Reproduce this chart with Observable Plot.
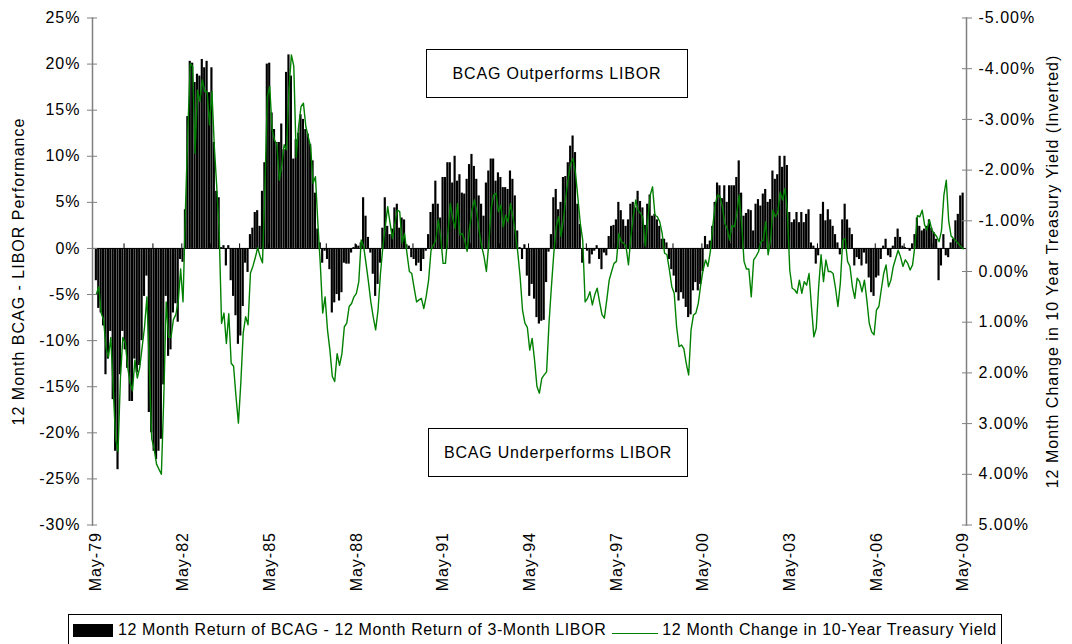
<!DOCTYPE html>
<html><head><meta charset="utf-8">
<script src="https://cdn.jsdelivr.net/npm/d3@7"></script>
<script src="https://cdn.jsdelivr.net/npm/@observablehq/plot@0.6"></script>
<style>
body{margin:0;background:#fff;font-family:"Liberation Sans",Arial,sans-serif;}
#wrap{position:relative;width:1072px;height:644px;overflow:hidden;}
.box{position:absolute;border:1px solid #000;background:#fff;display:flex;align-items:center;justify-content:center;font-size:16px;letter-spacing:0.8px;color:#000;}
#legend{position:absolute;left:68px;top:614px;width:934px;height:36px;border:1px solid #000;display:flex;align-items:flex-start;font-size:16px;letter-spacing:0.6px;padding-top:6px;box-sizing:border-box;}
.sw{display:inline-block;}
</style></head><body><div id="wrap"></div>
<script>
// 12 Month Return of BCAG - 12 Month Return of 3-Month LIBOR (%), monthly from May-79 (index 0) to May-09 (index 360)
const bcagMinusLibor = [
-3.5,-6.5,-7,-8.4,-13.7,-12,-9,-16.4,-22,-24,
-13.7,-9,-11,-13,-16.6,-16.6,-12,-13.5,-12.7,-10,
-5.2,-3,-17.8,-20,-22,-22.9,-22,-20.7,-14.8,-5.2,
-11.7,-11,-7,-6,-8,-1.2,-1.5,4.2,14.3,20.3,
20.1,18,18.9,18.7,20.5,19.6,20.3,16.9,19.6,11.5,
6.2,5.5,0.1,0.3,-1.9,0.3,-3.5,-5.2,-7.3,-10.4,
-9.5,-6.3,-1.6,-2.6,1.5,2.2,3.9,4.1,2.4,6.2,
9.3,20,20.1,14.7,12.9,11.5,11.5,13.5,10.7,19.1,
21,18.7,9.7,11.8,12.5,14.5,14,12.9,12.4,11.3,
9.5,6,2.1,0.6,-1.6,-0.3,-1.2,-2.3,-7,-5.9,
-5,-5.7,-4.8,-1.6,-1.7,-1.7,-0.5,0.1,0.4,0.25,
0.6,5.5,3.5,1.2,-0.5,-2.8,-5.2,-3.9,-1.6,2.2,
5.5,2.4,1.5,2.1,4.4,4.8,2.2,3.3,3.1,0.4,
0.25,-1,-1.2,-1.9,-1.6,-2.5,-1.2,-0.3,1.5,3.9,
4.8,7.3,4.8,3.3,7.7,7.7,9.3,9.3,7.1,10,
7.3,8,6,5.9,7.5,9.1,10.2,8.9,7.5,5.7,
4.8,3.5,7.1,8.4,9.7,9.7,7.3,8.2,7.7,6.6,
6.6,6.4,8.4,7.5,5.7,1.9,0.1,-1.2,0.4,-3,
-5.2,-3.9,-5.5,-7.5,-8.2,-7.9,-7.8,-3.7,-0.4,1.5,
5.5,6.4,4.2,5,7.7,7.8,9.3,11.1,12.2,10.4,
4.8,2.6,-1.6,-0.1,-0.3,-1.7,-0.7,-0.3,0.3,-1.2,
-2.3,-0.5,-0.8,1.3,2.4,2.5,3.1,5,4.1,3.1,
2.4,3.1,4.8,5,4.4,6.2,5.1,4.4,2.5,4.8,
5.8,3.5,3.7,3.1,2.4,1.0,1.0,0.6,-1.2,-2.3,
-3.0,-4.8,-5.7,-4.8,-5.5,-6.4,-7.5,-7.2,-4.6,-3.7,
-4.6,-3.9,-2.5,1.3,0.4,0.8,2.4,5,7.1,6.8,
5.4,6.8,5,6.8,6.8,6.8,7.7,9.5,6.0,3.5,
3.8,4.2,4.1,1.9,4.8,5.3,4.6,5.9,6.4,5,
5.3,8.4,7.5,8,10,8.8,10,9,3.9,2.8,
3.1,3.9,2.8,3.9,2.8,3.7,4.2,0.6,0.25,-1.7,
-0.8,3.7,5,3,4.2,3.1,2.4,1.5,0.6,-0.7,
3.1,4.8,3.1,2.2,1.5,-1.9,-1.0,-1.2,-1.9,-0.5,
-1.7,-3.2,-4.8,-5.2,-3.2,-3.0,-1.2,0.25,1.0,-0.8,
-1.0,0.25,1.2,2.1,1.2,0.25,0.1,-0.1,-0.3,0.5,
1.5,3.3,2.4,1.9,2.1,2.4,3.1,2.2,1.7,1.0,
-3.5,-1.9,1.5,-0.8,-1.0,0.6,1.0,3.0,3.7,5.7,6.0
];
// 12 Month Change in 10-Year Treasury Yield (%), same months (plotted on inverted right axis)
const treasuryChange = [
0.45,0.3,0.82,0.95,1.5,1.7,1.3,2.3,3.3,3.55,
2.1,1.3,1.4,1.88,2.2,2.35,1.75,2.1,1.9,1.5,
1.1,0.5,1.9,3.3,3.5,3.8,3.9,4.0,2.5,0.6,
1.3,1.3,0.95,0.85,0.6,-0.05,0.6,-1.21,-2.79,-4.1,
-4.05,-2.33,-3.58,-3.35,-3.78,-3.55,-3.55,-2.89,-3.55,-2.46,
-1.67,-0.82,1.02,0.82,1.42,0.83,1.81,1.87,2.47,2.99,
2.2,1.21,0.89,1.05,0.03,-0.1,-0.27,-0.47,-0.3,-0.17,
-1.61,-3.45,-3.65,-2.8,-2.59,-2.5,-1.8,-2.1,-2.5,-2.4,
-3.6,-4.27,-4.05,-2.25,-2.86,-3.25,-3.32,-2.86,-2.66,-2.46,
-1.74,-1.87,-0.95,-0.16,0.82,0.5,1.15,1.55,2.07,2.17,
1.62,1.85,1.62,1.09,1.02,0.69,0.63,0.5,0.43,0.2,
-0.62,-0.5,-0.16,0.2,0.6,0.9,1.15,0.76,0.04,-0.49,
-0.88,-1.28,-0.95,-0.65,-0.95,-1.21,-1.18,-0.56,-0.75,-0.36,
0,0.04,0.33,0.6,0.56,0.53,0.73,0.49,0.17,-0.42,
-0.52,-0.62,-1.02,-0.69,-0.16,-0.16,-0.75,-1.34,-1.05,-0.85,
-1.34,-0.72,-0.75,-0.6,-0.4,-0.85,-1.2,-1.41,-1.18,-0.8,
-0.5,-0.3,0,-0.56,-1.25,-1.51,-1.54,-1.18,-1.31,-0.88,
-1.11,-0.98,-1.34,-1.08,-0.78,-0.39,0.1,0.76,1.02,1.1,
1.55,1.32,1.75,2.27,2.4,2.11,2.04,1.98,1.02,0.3,
-0.36,-0.88,-1.08,-0.69,-1.02,-1.48,-1.84,-2.13,-2.23,-1.94,
-1.45,-0.95,-0.62,0.6,0.53,0.4,0.66,0.46,0.33,0.6,
0.85,0.92,0.56,0.17,0,-0.16,-0.2,-0.75,-0.59,-0.56,
-0.49,-0.13,-0.69,-1.08,-1.41,-1.21,-1.15,-1.05,-0.5,-1.0,
-1.5,-1.67,-1.11,-1.08,-0.98,-0.75,-0.36,-0.33,-0.03,0.3,
0.43,1.09,1.48,1.45,1.52,1.81,2.04,1.15,0.86,0.82,
0.63,0.27,-0.03,-0.23,-0.1,-0.39,-0.88,-1.31,-1.51,-1.48,
-1.28,-0.95,-0.85,-0.62,-0.91,-0.88,-1.15,-1.51,-0.95,-0.2,
-0.05,-0.05,0.5,-0.23,-0.3,-0.39,-0.59,-0.62,-0.98,-0.33,
-0.62,-1.21,-1.08,-1.15,-1.57,-1.41,-1.64,-1.18,-0.03,0.33,
0.36,0.43,0.17,0.43,0.2,0.27,0.04,0.69,1.29,1.12,
0.3,-0.33,0.2,-0.23,0,0,0.04,0.33,0.69,0.23,
-0.62,-0.65,-0.2,-0.1,0.3,0.53,0.13,0.2,0.4,0.17,
0.56,1.02,1.19,1.25,0.76,0.69,0.36,0.04,-0.13,0.3,
0.17,-0.1,-0.26,-0.42,-0.29,-0.1,-0.23,-0.16,-0.03,-0.13,
-0.52,-1.1,-1.08,-1.21,-0.92,-0.82,-1.02,-0.82,-0.75,-0.69,
-0.59,-0.8,-1.5,-1.8,-1.0,-0.7,-0.65,-0.6,-0.55,-0.49,-0.45
];
const xTickLabels = ["May-79","May-82","May-85","May-88","May-91","May-94","May-97","May-00","May-03","May-06","May-09"];
const xTickMonths = [0,36,72,108,144,180,216,252,288,324,360];
const yearTickMonths = d3.range(1,31).map(k => 12*k - 0.5);
const leftTicks = [-30,-25,-20,-15,-10,-5,0,5,10,15,20,25];
const rightTicks = [-5,-4,-3,-2,-1,0,1,2,3,4,5];
const leftTitle = "12 Month BCAG - LIBOR Performance";
const rightTitle = "12 Month Change in 10 Year Treasury Yield (Inverted)";
const legendBars = "12 Month Return of BCAG - 12 Month Return of 3-Month LIBOR";
const legendLine = "12 Month Change in 10-Year Treasury Yield";
const noteTop = "BCAG Outperforms LIBOR";
const noteBottom = "BCAG Underperforms LIBOR";

// right axis (inverted): -5% at top (= +25 left), +5% at bottom (= -30 left)
const toLeft = r => -2.5 - 5.5 * r;
const fromLeft = v => (-2.5 - v) / 5.5;

const data = bcagMinusLibor.map((v, i) => ({m: i, v, t: treasuryChange[i]}));
const axisColor = "#808080";
const fs = 16;

const chart = Plot.plot({
  width: 1072, height: 608,
  marginLeft: 92, marginRight: 106, marginTop: 17.5, marginBottom: 83.5,
  style: {fontFamily: '"Liberation Sans", Arial, sans-serif', fontSize: fs + "px", letterSpacing: "1px", background: "#fff", color: "#000"},
  x: {type: "linear", domain: [-1.6, 361.4], axis: null},
  y: {domain: [-30, 25], axis: null},
  marks: [
    Plot.rect(data, {x1: d => d.m - 0.5, x2: d => d.m + 0.5, y1: d => 0, y2: "v", fill: "#000", insetLeft: 0.12, insetRight: 0.12}),
    Plot.ruleY([0], {stroke: "#000", strokeWidth: 1}),
    Plot.ruleX(yearTickMonths, {x: d => d, y1: d => 0, y2: d => 0.5, stroke: "#000"}),
    Plot.line(data, {x: "m", y: d => toLeft(d.t), stroke: "#008000", strokeWidth: 1.4}),
    Plot.frame({anchor: "left", stroke: axisColor, strokeWidth: 1.5}),
    Plot.frame({anchor: "right", stroke: axisColor, strokeWidth: 1.5}),
    Plot.axisY({anchor: "left", ticks: leftTicks, tickFormat: d => d + "%", tickSize: 10, dx: 5, tickPadding: 7, stroke: axisColor, fill: "#000", fontSize: fs, label: null}),
    Plot.axisY({anchor: "right", ticks: rightTicks.map(toLeft), tickFormat: v => { const r = Math.round(fromLeft(v) * 100) / 100; return (r === 0 ? 0 : r).toFixed(2) + "%"; }, tickSize: 10, dx: -5, tickPadding: 7, stroke: axisColor, fill: "#000", fontSize: fs, label: null}),
    Plot.axisX({anchor: "bottom", ticks: xTickMonths, tickFormat: d => xTickLabels[xTickMonths.indexOf(d)], tickRotate: -90, tickSize: 0, tickPadding: 7, fill: "#000", fontSize: fs, label: null}),
    Plot.text([leftTitle], {frameAnchor: "left", text: d => d, rotate: -90, textAnchor: "middle", dx: -74, fontSize: fs, fill: "#000"}),
    Plot.text([rightTitle], {frameAnchor: "right", text: d => d, rotate: -90, textAnchor: "middle", dx: 86, fontSize: fs, fill: "#000"})
  ]
});

const wrap = document.getElementById("wrap");
wrap.appendChild(chart);

function addBox(text, left, top, w, h) {
  const b = document.createElement("div");
  b.className = "box";
  b.style.left = left + "px"; b.style.top = top + "px";
  b.style.width = w + "px"; b.style.height = h + "px";
  b.textContent = text;
  wrap.appendChild(b);
}
addBox(noteTop, 426, 49, 260, 47);
addBox(noteBottom, 428, 428, 258, 47);

const lg = document.createElement("div");
lg.id = "legend";
lg.innerHTML =
  '<span class="sw" style="width:40px;height:13px;background:#000;margin:3px 5px 0 4px;"></span>' +
  '<span>' + legendBars + '</span>' +
  '<span class="sw" style="width:46px;height:0;border-top:1.5px solid #008000;margin:12px 4px 0 6px;"></span>' +
  '<span>' + legendLine + '</span>';
wrap.appendChild(lg);
</script>
</body></html>
